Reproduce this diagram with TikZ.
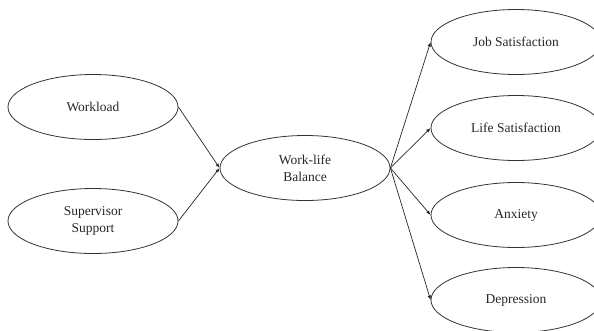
\documentclass[tikz,border=0pt]{standalone}
\usepackage{fontspec}
\setmainfont{Liberation Serif}
\usetikzlibrary{shapes.geometric,arrows.meta}
\begin{document}
\begin{tikzpicture}[x=1pt,y=1pt,
  oval/.style={ellipse,draw=black!80,line width=0.8pt,minimum width=170pt,minimum height=65pt,inner sep=0pt,align=center,text=black!85,font=\fontsize{13.5}{17}\selectfont},
  link/.style={draw=black!85,line width=0.7pt,-{Latex[length=4.5pt,width=3.5pt]}}]
\useasboundingbox (0,0) rectangle (594,-330);
\clip (0,0) rectangle (594,-330);
\node[oval] (wl) at (93,-107) {Workload};
\node[oval] (ss) at (93,-221) {Supervisor\\Support};
\node[oval] (wlb) at (305,-168) {Work-life\\Balance};
\node[oval] (job) at (516,-42) {Job Satisfaction};
\node[oval] (life) at (516,-128) {Life Satisfaction};
\node[oval] (anx) at (516,-215) {Anxiety};
\node[oval] (dep) at (516,-300) {Depression};
\draw[link] (wl.east) -- (wlb.west);
\draw[link] (ss.east) -- (wlb.west);
\draw[link] (wlb.east) -- (job.west);
\draw[link] (wlb.east) -- (life.west);
\draw[link] (wlb.east) -- (anx.west);
\draw[link] (wlb.east) -- (dep.west);
\end{tikzpicture}
\end{document}
